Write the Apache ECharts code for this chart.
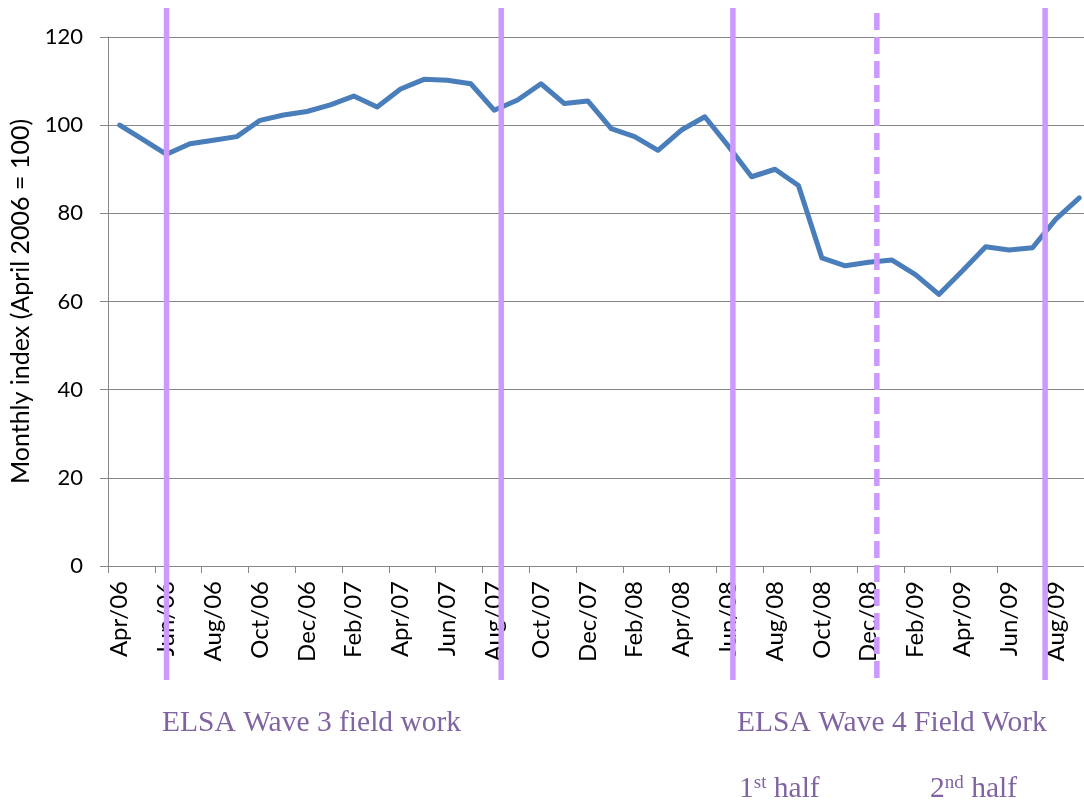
<!DOCTYPE html>
<html>
<head>
<meta charset="utf-8">
<title>Monthly index</title>
<script src="https://cdn.jsdelivr.net/npm/echarts@6/dist/echarts.min.js"></script>
<style>
  html, body { margin: 0; padding: 0; background: #ffffff; }
  #chart { width: 1084px; height: 806px; }
</style>
</head>
<body>
<div id="chart"></div>
<script>
// Months from April 2006 to September 2009
const months = [
  'Apr/06', 'May/06', 'Jun/06', 'Jul/06', 'Aug/06', 'Sep/06', 'Oct/06', 'Nov/06', 'Dec/06',
  'Jan/07', 'Feb/07', 'Mar/07', 'Apr/07', 'May/07', 'Jun/07', 'Jul/07', 'Aug/07', 'Sep/07',
  'Oct/07', 'Nov/07', 'Dec/07', 'Jan/08', 'Feb/08', 'Mar/08', 'Apr/08', 'May/08', 'Jun/08',
  'Jul/08', 'Aug/08', 'Sep/08', 'Oct/08', 'Nov/08', 'Dec/08', 'Jan/09', 'Feb/09', 'Mar/09',
  'Apr/09', 'May/09', 'Jun/09', 'Jul/09', 'Aug/09', 'Sep/09'
];

// Monthly index, April 2006 = 100
const monthlyIndex = [
  100, 96.7, 93.4, 95.8, 96.6, 97.4, 101.1, 102.3, 103.1,
  104.6, 106.6, 104.1, 108.2, 110.4, 110.2, 109.4, 103.4, 105.7,
  109.4, 104.9, 105.5, 99.2, 97.4, 94.3, 98.9, 101.9, 95.3,
  88.3, 90.0, 86.3, 69.9, 68.1, 68.9, 69.4, 66.1, 61.6,
  66.9, 72.4, 71.7, 72.2, 78.7, 83.5
];

// Fieldwork boundaries, in months after April 2006
const fieldworkDates = [2.0, 16.3, 26.2, 32.35, 39.54];
// The Wave 4 midpoint is drawn dashed
const fieldworkDashed = [false, false, false, true, false];

// Y-axis ticks
const yTicks = [0, 20, 40, 60, 80, 100, 120];

const gridColor = '#868686';
const markColor = '#CC99FF';
const noteColor = '#8064A2';
const noteFont = '"Liberation Serif", "Times New Roman", serif';
const noteSize = 29.5;

const chart = echarts.init(document.getElementById('chart'), null, { renderer: 'canvas' });

chart.setOption({
  animation: false,
  backgroundColor: '#ffffff',
  grid: { left: 108, top: 37, bottom: 240, right: -7, containLabel: false, outerBoundsMode: 'none' },
  xAxis: [
    {
      type: 'category',
      data: months,
      boundaryGap: true,
      axisLine: { show: true, onZero: false, lineStyle: { color: gridColor, width: 1 } },
      axisTick: { show: true, interval: 1, length: 7, inside: false, lineStyle: { color: gridColor, width: 1 } },
      axisLabel: {
        interval: 1,
        rotate: 90,
        margin: 15,
        color: '#000000',
        fontFamily: 'Lato',
        fontSize: 24
      },
      splitLine: { show: false }
    },
    {
      // continuous month scale for the fieldwork markers
      type: 'value',
      min: -0.5,
      max: months.length - 0.5,
      show: false
    }
  ],
  yAxis: {
    type: 'value',
    min: yTicks[0],
    max: yTicks[yTicks.length - 1],
    interval: yTicks[1] - yTicks[0],
    name: 'Monthly index (April 2006 = 100)',
    nameLocation: 'middle',
    nameRotate: 90,
    nameGap: 62,
    nameTextStyle: { color: '#000000', fontFamily: 'Lato', fontSize: 25 },
    axisLine: { show: true, onZero: false, lineStyle: { color: gridColor, width: 1 } },
    axisTick: { show: true, length: 8, inside: false, lineStyle: { color: gridColor, width: 1 } },
    axisLabel: { margin: 25, color: '#000000', fontFamily: 'Lato', fontSize: 22 },
    splitLine: { show: true, lineStyle: { color: gridColor, width: 1.2 } }
  },
  series: [
    {
      type: 'line',
      data: monthlyIndex,
      xAxisIndex: 0,
      yAxisIndex: 0,
      symbol: 'none',
      smooth: false,
      clip: false,
      lineStyle: { color: '#4A7EBB', width: 5, cap: 'round', join: 'round' },
      z: 3
    },
    {
      type: 'custom',
      xAxisIndex: 1,
      yAxisIndex: 0,
      clip: false,
      z: 10,
      data: fieldworkDates.map((d, i) => [d, 0, fieldworkDashed[i] ? 1 : 0]),
      encode: { x: 0, y: 1 },
      renderItem: function (params, api) {
        const cs = params.coordSys;
        const x = api.coord([api.value(0), 0])[0];
        const dashed = api.value(2) === 1;
        return {
          type: 'line',
          shape: { x1: x, y1: cs.y - 29, x2: x, y2: cs.y + cs.height + 114 },
          style: {
            stroke: markColor,
            lineWidth: 5.5,
            lineDash: dashed ? [17, 7] : null,
            lineDashOffset: dashed ? -5 : 0
          },
          silent: true
        };
      }
    }
  ],
  graphic: [
    {
      type: 'text', x: 162, y: 723,
      style: { text: 'ELSA Wave 3 field work', fill: noteColor, font: noteSize + 'px ' + noteFont, verticalAlign: 'middle' }
    },
    {
      type: 'text', x: 737, y: 723,
      style: { text: 'ELSA Wave 4 Field Work', fill: noteColor, font: noteSize + 'px ' + noteFont, verticalAlign: 'middle' }
    },
    {
      type: 'text', x: 739, y: 789,
      style: {
        text: '1{sup|st} half',
        fill: noteColor, font: noteSize + 'px ' + noteFont, verticalAlign: 'middle',
        rich: { sup: { fill: noteColor, fontSize: 19, fontFamily: noteFont, verticalAlign: 'top' } }
      }
    },
    {
      type: 'text', x: 930, y: 789,
      style: {
        text: '2{sup|nd} half',
        fill: noteColor, font: noteSize + 'px ' + noteFont, verticalAlign: 'middle',
        rich: { sup: { fill: noteColor, fontSize: 19, fontFamily: noteFont, verticalAlign: 'top' } }
      }
    }
  ]
});
</script>
</body>
</html>
